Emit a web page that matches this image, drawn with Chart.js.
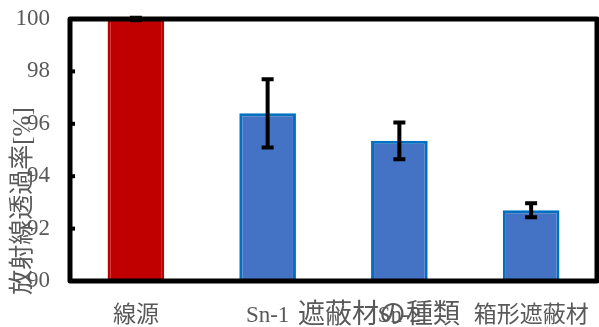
<!DOCTYPE html>
<html>
<head>
<meta charset="utf-8">
<script src="https://cdn.jsdelivr.net/npm/chart.js@4"></script>
<style>
  body { margin: 0; background: #fff; }
  canvas { display: block; }
</style>
</head>
<body>
<canvas id="barChart" width="599" height="327"></canvas>
<script>
const categories = ['線源', 'Sn-1', 'Sn-2', '箱形遮蔽材'];
const transmission = [100, 96.4, 95.35, 92.7];
const errors = [0.05, 1.3, 0.7, 0.27];
const yTicks = [90, 92, 94, 96, 98, 100];
const yTitle = '放射線透過率[%]';
const xTitle = '遮蔽材の種類';

const fontFamily = "'Liberation Serif', 'Noto Sans CJK JP', serif";
const gray = '#595959';

// frame, inward ticks, error bars and axis titles
const decorations = {
  id: 'decorations',
  afterDatasetsDraw(chart) {
    const ctx = chart.ctx;
    const area = chart.chartArea;
    const x = chart.scales.x;
    const y = chart.scales.y;
    ctx.save();

    // error bars
    ctx.strokeStyle = '#000';
    ctx.lineWidth = 4;
    transmission.forEach((v, i) => {
      const cx = x.getPixelForValue(i);
      const top = y.getPixelForValue(v + errors[i]);
      const bot = y.getPixelForValue(v - errors[i]);
      ctx.beginPath();
      ctx.moveTo(cx, top);
      ctx.lineTo(cx, bot);
      ctx.moveTo(cx - 6, top);
      ctx.lineTo(cx + 6, top);
      ctx.moveTo(cx - 6, bot);
      ctx.lineTo(cx + 6, bot);
      ctx.stroke();
    });

    // frame
    ctx.lineWidth = 5;
    ctx.lineJoin = 'round';
    ctx.strokeRect(area.left, area.top, area.right - area.left, area.bottom - area.top);

    // inward ticks
    ctx.lineWidth = 4;
    yTicks.forEach(t => {
      const py = y.getPixelForValue(t);
      ctx.beginPath();
      ctx.moveTo(area.left, py);
      ctx.lineTo(area.left + 5, py);
      ctx.stroke();
    });

    // axis titles
    ctx.fillStyle = gray;
    ctx.textAlign = 'center';
    ctx.textBaseline = 'middle';
    ctx.font = "27px " + fontFamily;
    ctx.fillText(xTitle, 379, 316);

    ctx.translate(23, 201);
    ctx.rotate(-Math.PI / 2);
    ctx.font = "25px " + fontFamily;
    ctx.fillText(yTitle, 0, 0);
    ctx.restore();
  }
};

const ctx = document.getElementById('barChart').getContext('2d');

const barChart = new Chart(ctx, {
  type: 'bar',
  data: {
    labels: categories,
    datasets: [{
      data: transmission,
      backgroundColor: ['#C00000', '#4472C4', '#4472C4', '#4472C4'],
      borderColor: ['#C00000', '#0070C0', '#0070C0', '#0070C0'],
      borderWidth: 3,
      categoryPercentage: 1,
      barPercentage: 0.43
    }]
  },
  options: {
    responsive: false,
    devicePixelRatio: 1,
    animation: false,
    layout: { padding: { top: 19, right: 2, left: 0, bottom: 0 } },
    plugins: {
      legend: { display: false },
      tooltip: { enabled: false }
    },
    scales: {
      y: {
        min: 90,
        max: 100,
        ticks: {
          stepSize: 2,
          padding: 20,
          color: gray,
          font: { family: fontFamily, size: 23 }
        },
        grid: { display: false, drawTicks: false },
        border: { display: false },
        afterFit(scale) {
          scale.width = 70;
          scale.paddingTop = 0;
          scale.paddingBottom = 0;
        }
      },
      x: {
        ticks: {
          padding: 21,
          maxRotation: 0,
          color: gray,
          font: { family: fontFamily, size: 23 }
        },
        grid: { display: false, drawTicks: false },
        border: { display: false },
        afterFit(scale) {
          scale.height = 46;
          scale.paddingLeft = 0;
          scale.paddingRight = 0;
        }
      }
    }
  },
  plugins: [decorations]
});
</script>
</body>
</html>
